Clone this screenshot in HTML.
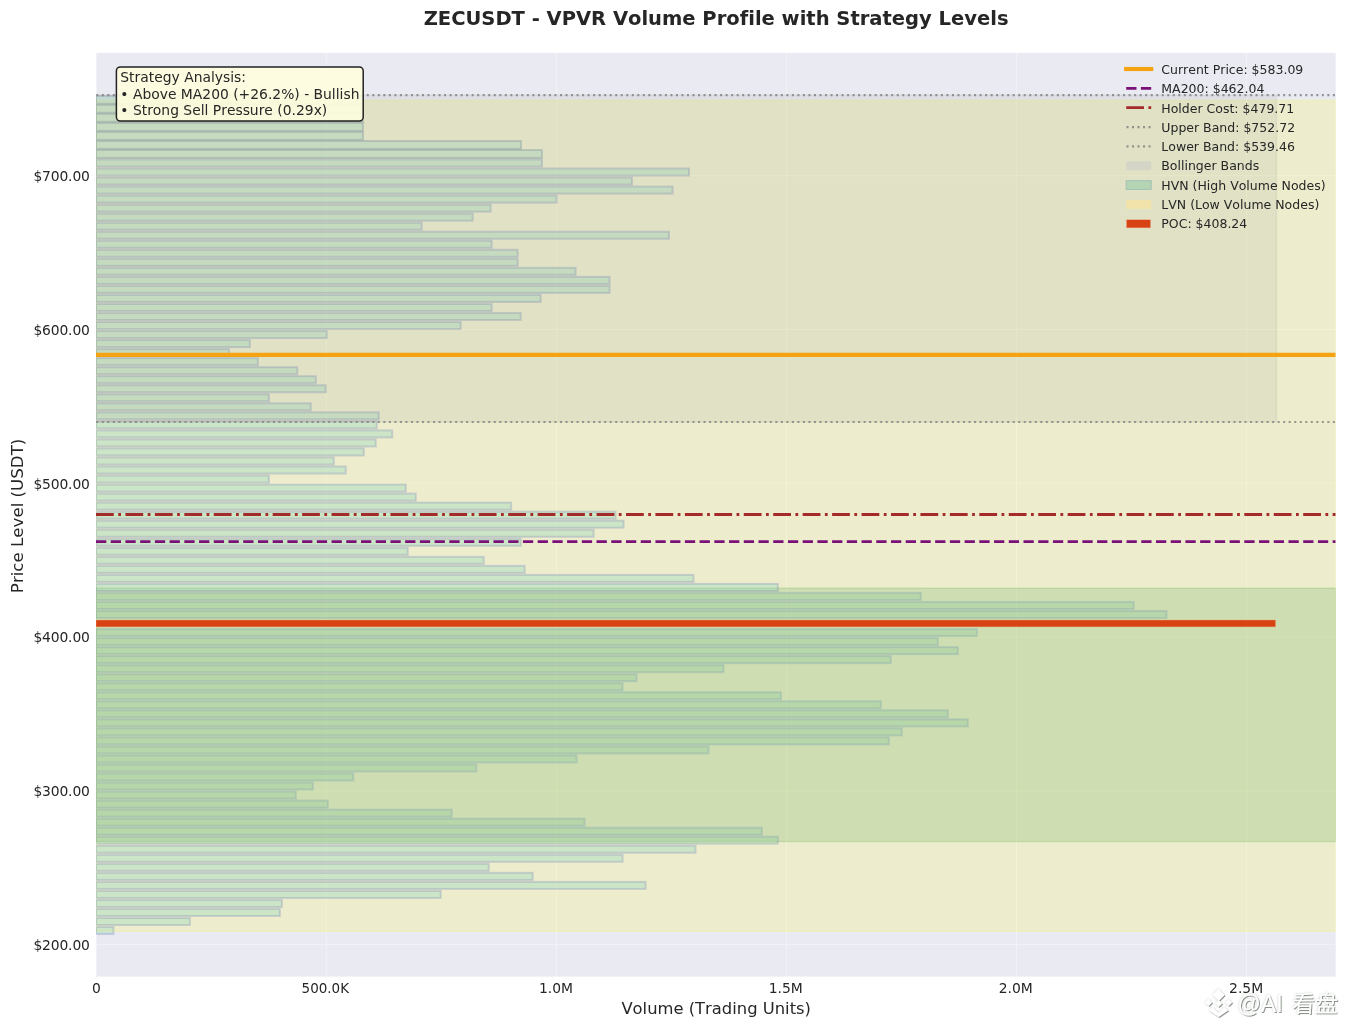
<!DOCTYPE html>
<html lang="en"><head><meta charset="utf-8"><title>ZECUSDT - VPVR Volume Profile with Strategy Levels</title>
<style>
html,body{margin:0;padding:0;background:#fff;}
body{width:1345px;height:1029px;overflow:hidden;}
svg{display:block;}
text{font-family:"DejaVu Sans","Liberation Sans",sans-serif;fill:#262626;font-variant-ligatures:none;font-kerning:none;}
</style></head><body>
<svg width="1345" height="1029" viewBox="0 0 1345 1029">
<rect x="0" y="0" width="1345" height="1029" fill="#ffffff"/>
<rect x="96.0" y="52.9" width="1239.7" height="923.7" fill="#eaeaf2"/>
<clipPath id="ax"><rect x="96.0" y="52.9" width="1239.7" height="923.7"/></clipPath>
<g clip-path="url(#ax)">
<g stroke="#ffffff" stroke-width="1.1" stroke-opacity="0.32">
<line x1="96.5" y1="52.9" x2="96.5" y2="976.6"/>
<line x1="326.4" y1="52.9" x2="326.4" y2="976.6"/>
<line x1="556.5" y1="52.9" x2="556.5" y2="976.6"/>
<line x1="786.5" y1="52.9" x2="786.5" y2="976.6"/>
<line x1="1016.5" y1="52.9" x2="1016.5" y2="976.6"/>
<line x1="1246.5" y1="52.9" x2="1246.5" y2="976.6"/>
<line x1="96.0" y1="944.45" x2="1335.7" y2="944.45"/>
<line x1="96.0" y1="790.69" x2="1335.7" y2="790.69"/>
<line x1="96.0" y1="636.93" x2="1335.7" y2="636.93"/>
<line x1="96.0" y1="483.17" x2="1335.7" y2="483.17"/>
<line x1="96.0" y1="329.41" x2="1335.7" y2="329.41"/>
<line x1="96.0" y1="175.65" x2="1335.7" y2="175.65"/>
</g>
<rect x="96.0" y="100.2" width="1239.7" height="831.1" fill="rgb(255,255,0)" fill-opacity="0.15" stroke="rgb(255,255,0)" stroke-opacity="0.15" stroke-width="1.39"/>
<rect x="96.0" y="588.2" width="1239.7" height="253.4" fill="rgb(20,132,10)" fill-opacity="0.14" stroke="rgb(20,132,10)" stroke-opacity="0.14" stroke-width="1.39"/>
<g fill="rgba(146,214,185,0.35)" stroke="rgba(128,150,160,0.38)" stroke-width="1.9">
<rect x="96.0" y="95.83" width="267.0" height="7.9"/>
<rect x="96.0" y="104.86" width="267.0" height="7.9"/>
<rect x="96.0" y="113.89" width="267.0" height="7.9"/>
<rect x="96.0" y="122.92" width="267.0" height="7.9"/>
<rect x="96.0" y="131.95" width="267.0" height="7.9"/>
<rect x="96.0" y="140.98" width="425.0" height="7.9"/>
<rect x="96.0" y="150.01" width="446.0" height="7.9"/>
</g>
<g fill="rgba(146,214,185,0.35)" stroke="rgba(112,124,180,0.27)" stroke-width="2.0">
<rect x="96.0" y="159.47" width="446.0" height="7.05"/>
<rect x="96.0" y="168.50" width="593.0" height="7.05"/>
<rect x="96.0" y="177.53" width="536.0" height="7.05"/>
<rect x="96.0" y="186.56" width="576.6" height="7.05"/>
<rect x="96.0" y="195.59" width="460.6" height="7.05"/>
<rect x="96.0" y="204.62" width="394.7" height="7.05"/>
<rect x="96.0" y="213.65" width="376.7" height="7.05"/>
<rect x="96.0" y="222.68" width="325.7" height="7.05"/>
<rect x="96.0" y="231.71" width="573.0" height="7.05"/>
<rect x="96.0" y="240.74" width="395.7" height="7.05"/>
<rect x="96.0" y="249.77" width="421.7" height="7.05"/>
<rect x="96.0" y="258.80" width="421.7" height="7.05"/>
<rect x="96.0" y="267.83" width="479.6" height="7.05"/>
<rect x="96.0" y="276.86" width="513.6" height="7.05"/>
<rect x="96.0" y="285.89" width="513.6" height="7.05"/>
<rect x="96.0" y="294.92" width="444.7" height="7.05"/>
<rect x="96.0" y="303.95" width="395.7" height="7.05"/>
<rect x="96.0" y="312.98" width="424.7" height="7.05"/>
<rect x="96.0" y="322.01" width="364.7" height="7.05"/>
<rect x="96.0" y="331.04" width="230.8" height="7.05"/>
<rect x="96.0" y="340.07" width="153.9" height="7.05"/>
<rect x="96.0" y="349.10" width="132.9" height="7.05"/>
<rect x="96.0" y="358.13" width="161.9" height="7.05"/>
<rect x="96.0" y="367.16" width="201.3" height="7.05"/>
<rect x="96.0" y="376.19" width="219.8" height="7.05"/>
<rect x="96.0" y="385.22" width="229.8" height="7.05"/>
<rect x="96.0" y="394.25" width="172.9" height="7.05"/>
<rect x="96.0" y="403.28" width="214.8" height="7.05"/>
<rect x="96.0" y="412.31" width="282.8" height="7.05"/>
<rect x="96.0" y="421.34" width="280.8" height="7.05"/>
<rect x="96.0" y="430.37" width="296.3" height="7.05"/>
<rect x="96.0" y="439.40" width="279.8" height="7.05"/>
<rect x="96.0" y="448.43" width="267.8" height="7.05"/>
<rect x="96.0" y="457.46" width="237.8" height="7.05"/>
<rect x="96.0" y="466.49" width="249.8" height="7.05"/>
<rect x="96.0" y="475.52" width="172.9" height="7.05"/>
<rect x="96.0" y="484.55" width="309.8" height="7.05"/>
<rect x="96.0" y="493.58" width="319.8" height="7.05"/>
<rect x="96.0" y="502.61" width="415.2" height="7.05"/>
<rect x="96.0" y="511.64" width="519.6" height="7.05"/>
<rect x="96.0" y="520.67" width="527.6" height="7.05"/>
<rect x="96.0" y="529.70" width="497.6" height="7.05"/>
<rect x="96.0" y="538.73" width="424.7" height="7.05"/>
<rect x="96.0" y="547.76" width="311.8" height="7.05"/>
<rect x="96.0" y="556.79" width="387.7" height="7.05"/>
<rect x="96.0" y="565.82" width="428.7" height="7.05"/>
<rect x="96.0" y="574.85" width="597.5" height="7.05"/>
<rect x="96.0" y="583.88" width="681.9" height="7.05"/>
<rect x="96.0" y="845.75" width="599.5" height="7.05"/>
<rect x="96.0" y="854.78" width="526.6" height="7.05"/>
<rect x="96.0" y="863.81" width="392.7" height="7.05"/>
<rect x="96.0" y="872.84" width="436.7" height="7.05"/>
<rect x="96.0" y="881.87" width="549.6" height="7.05"/>
<rect x="96.0" y="890.90" width="344.7" height="7.05"/>
<rect x="96.0" y="899.93" width="185.9" height="7.05"/>
<rect x="96.0" y="908.96" width="183.9" height="7.05"/>
<rect x="96.0" y="917.99" width="93.9" height="7.05"/>
<rect x="96.0" y="927.02" width="17.5" height="7.05"/>
</g>
<g fill="rgba(139,200,154,0.35)" stroke="rgba(116,150,177,0.27)" stroke-width="2.0">
<rect x="96.0" y="592.91" width="824.8" height="7.05"/>
<rect x="96.0" y="601.94" width="1037.7" height="7.05"/>
<rect x="96.0" y="610.97" width="1070.6" height="7.05"/>
<rect x="96.0" y="629.03" width="880.8" height="7.05"/>
<rect x="96.0" y="638.06" width="841.8" height="7.05"/>
<rect x="96.0" y="647.09" width="861.8" height="7.05"/>
<rect x="96.0" y="656.12" width="794.8" height="7.05"/>
<rect x="96.0" y="665.15" width="627.5" height="7.05"/>
<rect x="96.0" y="674.18" width="540.6" height="7.05"/>
<rect x="96.0" y="683.21" width="526.6" height="7.05"/>
<rect x="96.0" y="692.24" width="684.9" height="7.05"/>
<rect x="96.0" y="701.27" width="784.8" height="7.05"/>
<rect x="96.0" y="710.30" width="851.8" height="7.05"/>
<rect x="96.0" y="719.33" width="871.8" height="7.05"/>
<rect x="96.0" y="728.36" width="805.8" height="7.05"/>
<rect x="96.0" y="737.39" width="792.8" height="7.05"/>
<rect x="96.0" y="746.42" width="612.5" height="7.05"/>
<rect x="96.0" y="755.45" width="480.6" height="7.05"/>
<rect x="96.0" y="764.48" width="380.2" height="7.05"/>
<rect x="96.0" y="773.51" width="257.3" height="7.05"/>
<rect x="96.0" y="782.54" width="216.8" height="7.05"/>
<rect x="96.0" y="791.57" width="199.8" height="7.05"/>
<rect x="96.0" y="800.60" width="231.8" height="7.05"/>
<rect x="96.0" y="809.63" width="355.7" height="7.05"/>
<rect x="96.0" y="818.66" width="488.6" height="7.05"/>
<rect x="96.0" y="827.69" width="665.9" height="7.05"/>
<rect x="96.0" y="836.72" width="681.9" height="7.05"/>
</g>
<rect x="96.0" y="620.0" width="1179.6" height="6.9" fill="#d84315" stroke="rgba(232,175,120,0.6)" stroke-width="0.7"/>
<rect x="96.0" y="95.1" width="1180.5" height="326.9" fill="rgb(128,128,128)" fill-opacity="0.1" stroke="rgb(128,128,128)" stroke-opacity="0.1" stroke-width="1.39"/>
<line x1="96.0" y1="95.1" x2="1335.7" y2="95.1" stroke="#808080" stroke-opacity="0.8" stroke-width="2.08" stroke-dasharray="2.083 3.4375" stroke-dashoffset="-0.25"/>
<line x1="96.0" y1="422.0" x2="1335.7" y2="422.0" stroke="#808080" stroke-opacity="0.8" stroke-width="2.08" stroke-dasharray="2.083 3.4375" stroke-dashoffset="-0.25"/>
<line x1="96.0" y1="514.5" x2="1335.7" y2="514.5" stroke="#a52a2a" stroke-width="2.78" stroke-dasharray="17.778 4.444 2.778 4.444"/>
<line x1="96.0" y1="541.6" x2="1335.7" y2="541.6" stroke="#7a1078" stroke-width="2.78" stroke-dasharray="10.278 4.444"/>
<line x1="96.0" y1="354.8" x2="1335.7" y2="354.8" stroke="#f5a313" stroke-width="4.17"/>
</g>
<text x="716.1" y="24.7" text-anchor="middle" font-size="19.52" font-weight="bold">ZECUSDT - VPVR Volume Profile with Strategy Levels</text>
<g font-size="13.89">
<text x="96.3" y="993.3" text-anchor="middle">0</text>
<text x="325.3" y="993.3" text-anchor="middle" textLength="47.5" lengthAdjust="spacingAndGlyphs">500.0K</text>
<text x="556.0" y="993.3" text-anchor="middle">1.0M</text>
<text x="785.7" y="993.3" text-anchor="middle">1.5M</text>
<text x="1015.8" y="993.3" text-anchor="middle">2.0M</text>
<text x="1246.1" y="993.3" text-anchor="middle">2.5M</text>
<text x="89.9" y="949.7" text-anchor="end" textLength="56.5" lengthAdjust="spacing">$200.00</text>
<text x="89.9" y="796.0" text-anchor="end" textLength="56.5" lengthAdjust="spacing">$300.00</text>
<text x="89.9" y="642.0" text-anchor="end" textLength="56.5" lengthAdjust="spacing">$400.00</text>
<text x="89.9" y="488.9" text-anchor="end" textLength="56.5" lengthAdjust="spacing">$500.00</text>
<text x="89.9" y="334.9" text-anchor="end" textLength="56.5" lengthAdjust="spacing">$600.00</text>
<text x="89.9" y="181.0" text-anchor="end" textLength="56.5" lengthAdjust="spacing">$700.00</text>
</g>
<text x="621.4" y="1014.2" font-size="16.67" textLength="189.6" lengthAdjust="spacingAndGlyphs">Volume (Trading Units)</text>
<text transform="translate(22.7,515.9) rotate(-90)" text-anchor="middle" font-size="16.67">Price Level (USDT)</text>
<rect x="116.4" y="66.9" width="246.8" height="54.2" rx="4" ry="4" fill="rgb(254,253,222)" fill-opacity="0.92" stroke="#222222" stroke-width="1.5"/>
<g font-size="13.89">
<text x="120.3" y="81.5">Strategy Analysis:</text>
<text x="120.3" y="98.9">• Above MA200 (+26.2%) - Bullish</text>
<text x="120.3" y="115.3">• Strong Sell Pressure (0.29x)</text>
</g>
<line x1="1126.2" y1="69.0" x2="1151.2" y2="69.0" stroke="#f5a313" stroke-width="4.17" stroke-linecap="square"/>
<line x1="1126.2" y1="88.3" x2="1151.2" y2="88.3" stroke="#7a1078" stroke-width="2.78" stroke-dasharray="10.278 4.444"/>
<line x1="1126.2" y1="107.7" x2="1151.2" y2="107.7" stroke="#a52a2a" stroke-width="2.78" stroke-dasharray="17.778 4.444 2.778 4.444"/>
<line x1="1126.2" y1="127.1" x2="1151.2" y2="127.1" stroke="#808080" stroke-opacity="0.8" stroke-width="2.08" stroke-dasharray="2.083 3.4375" stroke-dashoffset="-0.25"/>
<line x1="1126.2" y1="146.4" x2="1151.2" y2="146.4" stroke="#808080" stroke-opacity="0.8" stroke-width="2.08" stroke-dasharray="2.083 3.4375" stroke-dashoffset="-0.25"/>
<rect x="1126.2" y="161.3" width="25" height="8.75" fill="rgb(213,213,199)"/>
<rect x="1126.2" y="180.7" width="25" height="8.75" fill="rgb(179,213,179)" stroke="rgb(166,192,180)" stroke-width="1"/>
<rect x="1126.2" y="200.1" width="25" height="8.75" fill="rgb(241,227,170)"/>
<rect x="1126.2" y="219.4" width="24.6" height="8.6" fill="#d84315" stroke="rgba(236,214,180,0.8)" stroke-width="0.8"/>
<g font-size="12.5">
<text x="1161.3" y="73.7">Current Price: $583.09</text>
<text x="1161.3" y="92.9">MA200: $462.04</text>
<text x="1161.3" y="112.7">Holder Cost: $479.71</text>
<text x="1161.3" y="131.9">Upper Band: $752.72</text>
<text x="1161.3" y="151.1">Lower Band: $539.46</text>
<text x="1161.3" y="170.0">Bollinger Bands</text>
<text x="1161.3" y="189.7">HVN (High Volume Nodes)</text>
<text x="1161.3" y="208.9">LVN (Low Volume Nodes)</text>
<text x="1161.3" y="227.9">POC: $408.24</text>
</g>
<filter id="ws" x="-10%" y="-25%" width="120%" height="160%"><feGaussianBlur in="SourceAlpha" stdDeviation="0.9" result="b1"/><feFlood flood-color="#5a665a" flood-opacity="0.38"/><feComposite in2="b1" operator="in" result="glow"/><feGaussianBlur in="SourceAlpha" stdDeviation="0.45" result="b2"/><feOffset in="b2" dx="0.8" dy="0.9" result="o2"/><feFlood flood-color="#4a5a4a" flood-opacity="0.6"/><feComposite in2="o2" operator="in" result="sh"/><feMerge><feMergeNode in="glow"/><feMergeNode in="sh"/><feMergeNode in="SourceGraphic"/></feMerge></filter>
<g filter="url(#ws)">
<g transform="translate(1218.6,1003)" fill="#ffffff">
<path d="M0,-14 L6,-8 L0,-2 L-6,-8 Z M-10,-4 L-6.5,-0.5 L-10,3 L-13.5,-0.5 Z M10,-4 L13.5,-0.5 L10,3 L6.5,-0.5 Z M0,-3 L3.5,0.5 L0,4 L-3.5,0.5 Z M-6,4 L0,10 L6,4 L9.5,7.5 L0,14 L-9.5,7.5 Z"/>
</g>
<text x="1237.5" y="1011.5" font-size="23" style="fill:#ffffff;font-family:'Liberation Sans','Noto Sans CJK SC',sans-serif;">@AI</text>
<text transform="translate(1291.5,1011.5) skewX(-3)" font-size="23" style="fill:#ffffff;font-family:'Liberation Sans','Noto Sans CJK SC',sans-serif;">看盘</text>
</g>
</svg></body></html>
